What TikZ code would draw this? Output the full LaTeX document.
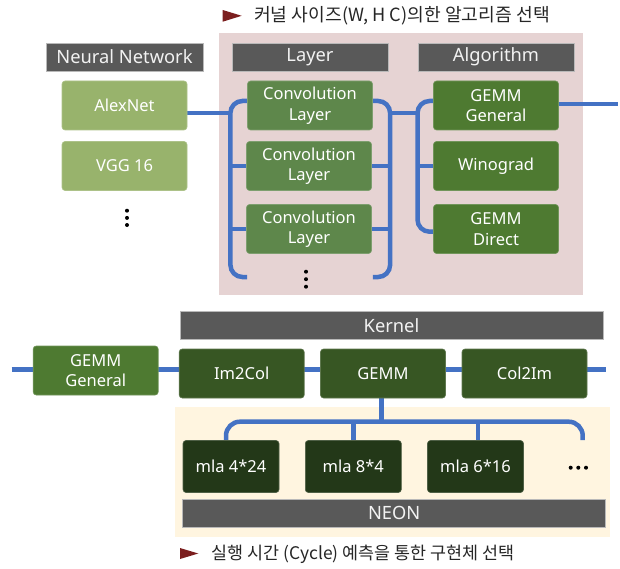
\documentclass[tikz,border=0pt]{standalone}
\usepackage{fontspec}
\setmainfont{Noto Sans}
\newfontfamily\kr{Noto Sans CJK KR}
\definecolor{hdrgray}{HTML}{595959}
\definecolor{nngreen}{HTML}{98B36C}
\definecolor{convgreen}{HTML}{5E874B}
\definecolor{alggreen}{HTML}{4E7A31}
\definecolor{kgreen}{HTML}{375623}
\definecolor{mlagreen}{HTML}{233818}
\definecolor{pinkbg}{HTML}{E6D3D3}
\definecolor{neonbg}{HTML}{FFF5E0}
\definecolor{wireblue}{HTML}{4472C4}
\definecolor{tri}{HTML}{7B1E1E}
\definecolor{txt}{HTML}{262626}
\pgfdeclarelayer{bg}
\pgfdeclarelayer{lines}
\pgfsetlayers{bg,lines,main}
\begin{document}
\begin{tikzpicture}[x=1pt,y=-1pt,
  box/.style={rectangle, rounded corners=3pt, fill=#1, draw=#1!80!white, line width=0.6pt,
    text=white, align=center, font=\fontsize{16.5}{20.5}\selectfont, inner sep=0pt,
    minimum width=125pt, minimum height=49pt},
  hdr/.style={rectangle, fill=hdrgray, draw=gray!55, line width=0.7pt, text=white!95!black,
    font=\fontsize{18.3}{20}\selectfont, inner sep=0pt, minimum height=28pt},
  wire/.style={draw=wireblue, line width=4.5pt},
  note/.style={anchor=west, text=txt, inner sep=0pt}]
\useasboundingbox (0,0) rectangle (620,569);
\begin{pgfonlayer}{bg}
  \fill[pinkbg] (219.3,33.3) rectangle (582.7,295);
  \fill[neonbg] (175,406.7) rectangle (610,536.7);
\end{pgfonlayer}

% headers
\node[hdr, minimum width=157pt] (nnh) at (124.5,57) {Neural Network};
\node[hdr, minimum width=156pt] (lyh) at (310,57) {Layer};
\node[hdr, minimum width=156pt] (alh) at (496,57) {Algorithm};
\node[hdr, minimum width=423pt] (krh) at (391.5,325.5) {Kernel};
\node[hdr, minimum width=423pt] (neh) at (394.2,513.3) {NEON};

% networks
\node[box=nngreen] (alex) at (124.5,105.5) {AlexNet};
\node[box=nngreen] (vgg) at (124.5,166) {VGG 16};
% layers
\node[box=convgreen] (c1) at (310,105.5) {Convolution\\Layer};
\node[box=convgreen] (c2) at (309,166) {Convolution\\Layer};
\node[box=convgreen] (c3) at (309,229) {Convolution\\Layer};
% algorithms
\node[box=alggreen] (gg) at (496,105.5) {GEMM\\General};
\node[box=alggreen] (wino) at (496,166) {Winograd};
\node[box=alggreen] (gd) at (496,229) {GEMM\\Direct};
% kernel row
\node[box=alggreen] (gg2) at (95.7,370.5) {GEMM\\General};
\node[box=kgreen] (im2) at (241.7,373.5) {Im2Col};
\node[box=kgreen] (gemm) at (383,373.5) {GEMM};
\node[box=kgreen] (col) at (524.5,373.5) {Col2Im};
% mla
\node[box=mlagreen, minimum width=96pt, minimum height=52pt] (m1) at (231,466.5) {mla 4*24};
\node[box=mlagreen, minimum width=96pt, minimum height=52pt] (m2) at (353.3,466.5) {mla 8*4};
\node[box=mlagreen, minimum width=96pt, minimum height=52pt] (m3) at (475.5,466.5) {mla 6*16};

% dots
\foreach \yy in {210.7,217.9,225} \fill[black] (127,\yy) circle (2pt);
\foreach \yy in {271.7,279.2,286.7} \fill[black] (306,\yy) circle (2pt);
\foreach \xx in {570.7,578.3,586} \fill[black] (\xx,467.7) circle (2pt);

% notes
\fill[tri] (222.7,10) -- (241.7,15.8) -- (222.7,21.7) -- cycle;
\node[note, font=\kr\fontsize{18.2}{20}\selectfont] (t1) at (254,16) {커널 사이즈(W, H C)의한 알고리즘 선택};
\fill[tri] (180,548) -- (198.3,553.5) -- (180,559) -- cycle;
\node[note, font=\kr\fontsize{17.4}{20}\selectfont] (t2) at (211.7,554) {실행 시간 (Cycle) 예측을 통한 구현체 선택};

% wires
\coordinate (lbx) at (230.7,113);
\coordinate (rbx) at (389.8,113);
\coordinate (abx) at (418.3,113);
\coordinate (outr) at (618,104);
\coordinate (r2l) at (11.7,369.3);
\coordinate (r2r) at (605.7,369.3);
\coordinate (tap) at (381.7,421.7);
\coordinate (busr) at (582.7,440);
\begin{pgfonlayer}{lines}
  \draw[wire] ([yshift=-7.5pt]alex.east) -- (lbx);
  \draw[wire, rounded corners=12pt] ([yshift=4.5pt]c1.west) -- ++(-16.8,0) -- ++(0,176) -- ++(16.8,0);
  \draw[wire] (c2.west) -- (c2.west -| lbx);
  \draw[wire] (c3.west) -- (c3.west -| lbx);
  \draw[wire, rounded corners=12pt] ([yshift=4.5pt]c1.east) -- ++(17.3,0) -- ++(0,176) -- ++(-17.3,0);
  \draw[wire] (c2.east) -- (c2.east -| rbx);
  \draw[wire] (c3.east) -- (c3.east -| rbx);
  \draw[wire] (rbx) -- (abx);
  \draw[wire, rounded corners=12pt] ([yshift=4.5pt]gg.west) -- ++(-15.7,0) |- ([yshift=-2.7pt]gd.west);
  \draw[wire] (wino.west) -- (wino.west -| abx);
  \draw[wire] ([yshift=1.5pt]gg.east) -- (outr);
  \draw[wire] (r2l) -- (r2r);
  \draw[wire] (gemm.south -| tap) -- (tap);
  \draw[wire, rounded corners=14pt] ([xshift=-5pt]m1.north) |- (tap) -| (busr);
  \draw[wire] (m2.north) -- (m2.north |- tap);
  \draw[wire] ([xshift=2.7pt]m3.north) -- ([xshift=2.7pt]m3.north |- tap);
\end{pgfonlayer}
\end{tikzpicture}
\end{document}
